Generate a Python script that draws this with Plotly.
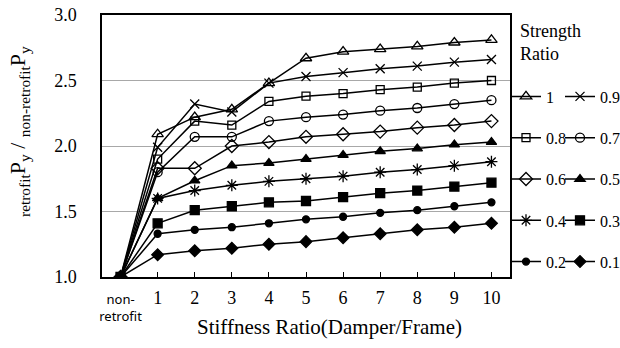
import plotly.graph_objects as go

# Stiffness ratio categories (damper / frame)
stiffness_cats = ["non-retrofit", "1", "2", "3", "4", "5", "6", "7", "8", "9", "10"]

SERIF = "Liberation Serif, Times New Roman, serif"


def num_label(s):
    return f'<span style="font-family:Liberation Serif;font-size:18px">{s}</span>'


stiffness_ticktext = ["non-<br>retrofit"] + [num_label(c) for c in stiffness_cats[1:]]

# Yield-strength ratio retrofit / non-retrofit, one list per strength ratio
sr_1_0 = [1.0, 2.09, 2.22, 2.28, 2.48, 2.67, 2.72, 2.74, 2.76, 2.79, 2.81]
sr_0_9 = [1.0, 1.99, 2.32, 2.26, 2.48, 2.53, 2.56, 2.59, 2.61, 2.64, 2.66]
sr_0_8 = [1.0, 1.90, 2.19, 2.16, 2.34, 2.38, 2.40, 2.43, 2.45, 2.48, 2.50]
sr_0_7 = [1.0, 1.80, 2.07, 2.07, 2.19, 2.22, 2.24, 2.27, 2.29, 2.32, 2.35]
sr_0_6 = [1.0, 1.83, 1.83, 2.00, 2.03, 2.07, 2.09, 2.11, 2.14, 2.16, 2.19]
sr_0_5 = [1.0, 1.60, 1.735, 1.85, 1.87, 1.90, 1.93, 1.96, 1.98, 2.01, 2.03]
sr_0_4 = [1.0, 1.60, 1.66, 1.70, 1.73, 1.75, 1.77, 1.80, 1.82, 1.85, 1.88]
sr_0_3 = [1.0, 1.41, 1.51, 1.54, 1.57, 1.58, 1.61, 1.64, 1.66, 1.69, 1.72]
sr_0_2 = [1.0, 1.33, 1.36, 1.38, 1.41, 1.44, 1.46, 1.49, 1.51, 1.54, 1.57]
sr_0_1 = [1.0, 1.17, 1.20, 1.22, 1.25, 1.27, 1.30, 1.33, 1.36, 1.38, 1.41]

series_names = ["1", "0.9", "0.8", "0.7", "0.6", "0.5", "0.4", "0.3", "0.2", "0.1"]
series_values = [sr_1_0, sr_0_9, sr_0_8, sr_0_7, sr_0_6, sr_0_5, sr_0_4, sr_0_3, sr_0_2, sr_0_1]

# marker symbol, size per series
styles = [
    ("triangle-up-open", 10),
    ("x-thin-open", 9),
    ("square-open", 8),
    ("circle-open", 9),
    ("diamond-open", 10),
    ("triangle-up", 9),
    ("asterisk-open", 10),
    ("square", 9),
    ("circle", 7),
    ("diamond", 9),
]

fig = go.Figure()
for i, (name, vals) in enumerate(zip(series_names, series_values)):
    sym, size = styles[i]
    fig.add_trace(go.Scatter(
        x=stiffness_cats, y=vals, name=name,
        mode="lines+markers",
        line=dict(color="black", width=1.5),
        marker=dict(symbol=sym, size=size, color="black",
                    line=dict(color="black", width=1.3)),
        legend="legend" if i % 2 == 0 else "legend2",
        legendgroup=name,
    ))

# plot area: x 102..510 px, y 15..277 px
PW, PH = 408, 262

legend_common = dict(
    font=dict(family=SERIF, size=16, color="black"),
    bgcolor="rgba(0,0,0,0)", borderwidth=0,
    yanchor="top", xanchor="left",
    tracegroupgap=17.5, itemwidth=30,
)

fig.update_layout(
    width=620, height=348,
    margin=dict(l=102, r=110, t=15, b=71, autoexpand=False),
    paper_bgcolor="white", plot_bgcolor="white",
    font=dict(family=SERIF, size=18, color="black"),
    showlegend=True,
    legend=dict(x=(506 - 102) / PW, y=(277 - 79.5) / PH, **legend_common),
    legend2=dict(x=(560 - 102) / PW, y=(277 - 79.5) / PH, **legend_common),
    xaxis=dict(
        type="category", range=[-0.5, 10.5],
        tickmode="array", tickvals=stiffness_cats, ticktext=stiffness_ticktext,
        ticks="inside", ticklen=5, tickwidth=1, tickcolor="black",
        ticklabelstandoff=10,
        showline=True, linecolor="black", linewidth=1.5, mirror=True,
        showgrid=False, zeroline=False,
        tickfont=dict(family="Noto Sans, sans-serif", size=13, color="black"),
    ),
    yaxis=dict(
        range=[1.0, 3.0], dtick=0.5, tickformat=".1f",
        ticks="", ticklabelstandoff=20,
        showline=True, linecolor="black", linewidth=1.5, mirror=True,
        showgrid=True, gridcolor="#a8a8a8", gridwidth=1, zeroline=False,
        tickfont=dict(family=SERIF, size=18, color="black"),
    ),
    annotations=[
        dict(text="<sub>retrofit</sub>P<sub>y</sub> / <sub>non-retrofit</sub>P<sub>y</sub>",
             xref="paper", yref="paper", x=(19 - 102) / PW, y=(277 - 132) / PH,
             xanchor="center", yanchor="middle", textangle=-90, showarrow=False,
             font=dict(family=SERIF, size=22, color="black")),
        dict(text="Stiffness Ratio(Damper/Frame)", xref="paper", yref="paper",
             x=0.557, y=-0.191, xanchor="center", yanchor="middle", showarrow=False,
             font=dict(family=SERIF, size=21, color="black")),
        dict(text="Strength<br>Ratio", xref="paper", yref="paper",
             x=1.02, y=0.985, xanchor="left", yanchor="top", showarrow=False, align="left",
             font=dict(family=SERIF, size=18, color="black")),
    ],
)

fig.write_html("out.html")
